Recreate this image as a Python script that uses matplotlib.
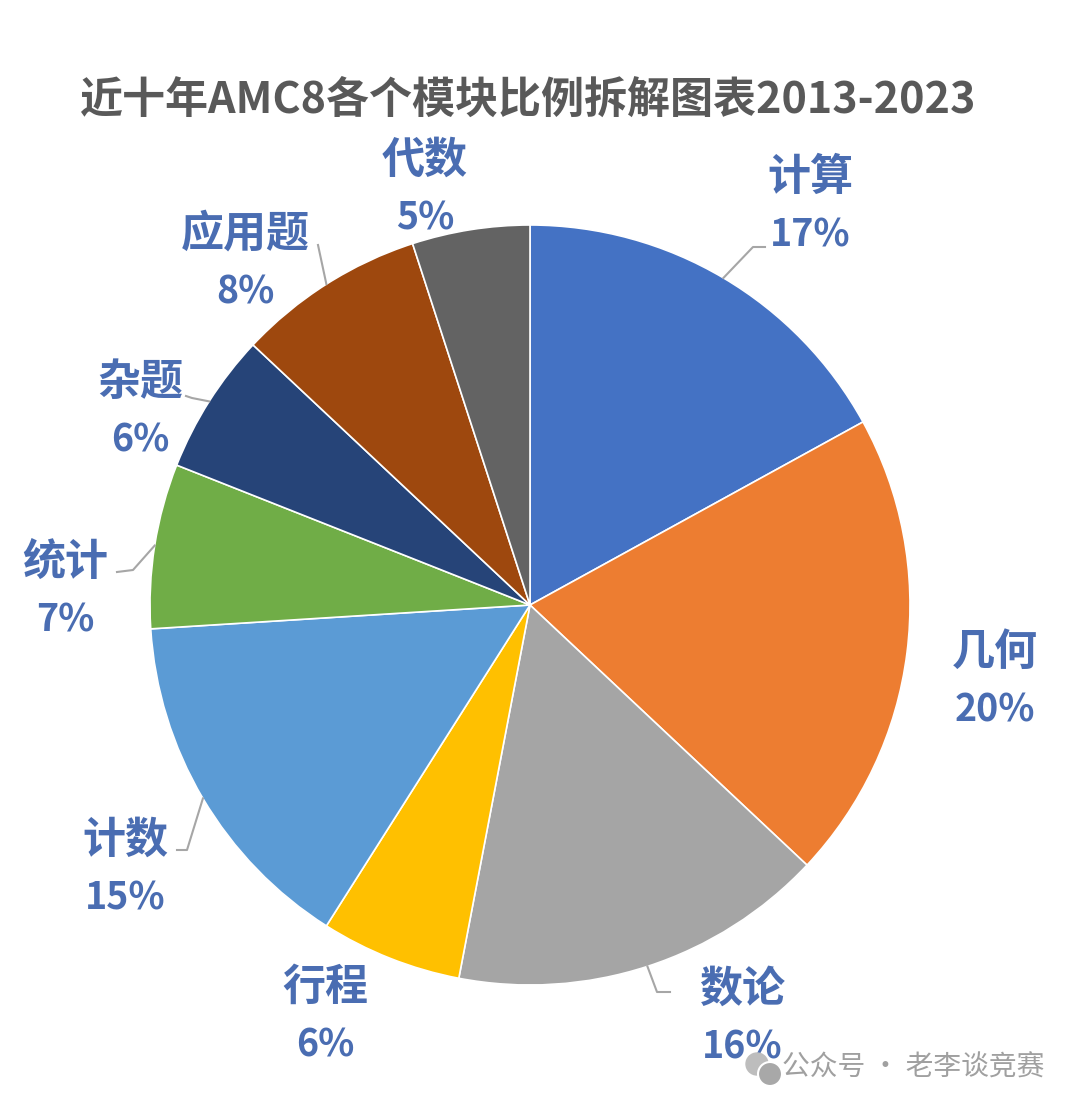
import numpy as np
import matplotlib.pyplot as plt
from matplotlib.patches import Circle

plt.rcParams['font.family'] = ['Noto Sans CJK SC', 'DejaVu Sans']

modules = ['计算', '几何', '数论', '行程', '计数', '统计', '杂题', '应用题', '代数']
shares = [17, 20, 16, 6, 15, 7, 6, 8, 5]
colors = ['#4472C4', '#ED7D31', '#A5A5A5', '#FFC000', '#5B9BD5',
          '#70AD47', '#264478', '#9E480E', '#636363']

# label block centres in pixels (from top-left)
label_pos = [(810, 205), (995, 680), (742, 1017), (325, 1015), (125, 868),
             (65, 590), (140, 410), (245, 262), (425, 188)]
# leader lines: elbow point and end point, None = no line
leaders = [((753, 247), (765, 247)), None, ((657, 992), (670, 992)), None,
           ((187, 850), (177, 850)), ((133, 570), (117, 572)),
           ((192, 398), (186, 396)), ((318, 245), (318, 245)), None]

label_color = '#4A6DB2'

fig = plt.figure(figsize=(10.8, 11.09), dpi=100)
ax = fig.add_axes([0, 0, 1, 1])

# y axis is inverted below, so counterclock=True draws clockwise on screen
wedges, _ = ax.pie(shares, colors=colors, center=(530, 605), radius=380,
                   startangle=-90, counterclock=True,
                   wedgeprops=dict(edgecolor='white', linewidth=1.2))

ax.set_xlim(0, 1080)
ax.set_ylim(1109, 0)
ax.set_aspect('equal')
ax.axis('off')

for w, name, pct, pos, ld in zip(wedges, modules, shares, label_pos, leaders):
    x, y = pos
    ax.text(x, y - 28, name, ha='center', va='center', fontsize=31,
            fontweight='bold', color=label_color)
    ax.text(x, y + 30, f'{pct}%', ha='center', va='center', fontsize=27,
            fontweight='bold', color=label_color)
    if ld is not None:
        mid = np.deg2rad((w.theta1 + w.theta2) / 2)
        cx, cy = w.center
        ex = cx + w.r * np.cos(mid)
        ey = cy + w.r * np.sin(mid)
        (bx, by), (tx, ty) = ld
        ax.plot([ex, bx, tx], [ey, by, ty], color='#A6A6A6', lw=1.5)

ax.text(528, 100, '近十年AMC8各个模块比例拆解图表2013-2023', ha='center',
        va='center', fontsize=31, fontweight='bold', color='#595959')

# watermark
ax.add_patch(Circle((757, 1064), 11, color='#BDBDBD', zorder=5))
ax.add_patch(Circle((770, 1074), 12, color='#A8A8A8', ec='white', lw=1.5, zorder=6))
ax.text(782, 1068, '公众号 · 老李谈竞赛', ha='left', va='center',
        fontsize=20, color='#A0A0A0')

fig.savefig('out.png', dpi=100)
